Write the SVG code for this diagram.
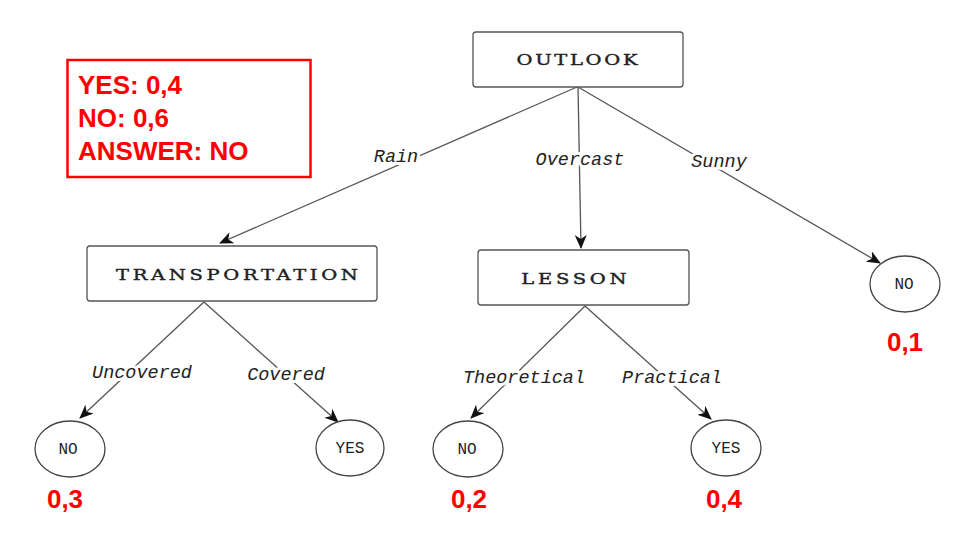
<svg xmlns="http://www.w3.org/2000/svg" width="960" height="540" viewBox="0 0 960 540">
<defs>
<marker id="arr" markerUnits="userSpaceOnUse" markerWidth="14" markerHeight="12" viewBox="0 0 14 12" refX="13" refY="6" orient="auto">
<path d="M0,0 L14,6 L0,12 L4,6 z" fill="#111"/>
</marker>
<style>
.box{fill:#fff;stroke:#555;stroke-width:1.3}
.ell{fill:#fff;stroke:#444;stroke-width:1.3}
.ntxt{font-family:"DejaVu Serif",serif;font-size:15px;fill:#222;stroke:#222;stroke-width:0.4;text-anchor:middle}
.ltxt{font-family:"Liberation Mono",monospace;font-size:16px;fill:#222;text-anchor:middle}
.edge{stroke:#555;stroke-width:1.3;fill:none;marker-end:url(#arr)}
.elab{font-family:"Liberation Mono",monospace;font-style:italic;font-size:18.5px;fill:#222;text-anchor:middle;stroke:#fff;stroke-width:6;paint-order:stroke;stroke-linejoin:round}
.red{font-family:"Liberation Sans",sans-serif;font-weight:bold;font-size:26px;fill:#f00}
</style>
</defs>
<rect width="960" height="540" fill="#fff"/>
<g id="connectors">
<line class="edge" x1="577" y1="87" x2="220" y2="243"/>
<line class="edge" x1="578" y1="87" x2="581" y2="248"/>
<line class="edge" x1="578" y1="87" x2="880" y2="263"/>
<line class="edge" x1="204" y1="302" x2="80" y2="418"/>
<line class="edge" x1="204" y1="302" x2="338" y2="422"/>
<line class="edge" x1="585" y1="306" x2="471" y2="418"/>
<line class="edge" x1="585" y1="306" x2="711" y2="419"/>
<text class="elab" x="396" y="162">Rain</text>
<text class="elab" x="580" y="165">Overcast</text>
<text class="elab" x="719" y="167">Sunny</text>
<text class="elab" x="142" y="378">Uncovered</text>
<text class="elab" x="286" y="380">Covered</text>
<text class="elab" x="524" y="383">Theoretical</text>
<text class="elab" x="672" y="383">Practical</text>
</g>
<g id="legend">
<rect x="67.5" y="60" width="243" height="117" fill="none" stroke="#f00" stroke-width="2.5"/>
<text class="red" x="78" y="94">YES: 0,4</text>
<text class="red" x="78" y="127">NO: 0,6</text>
<text class="red" x="78" y="160">ANSWER: NO</text>
</g>
<g id="outlook">
<rect class="box" x="473" y="32" width="210" height="55" rx="3"/>
<text class="ntxt" transform="translate(577,65) scale(1.3,1)" textLength="93" lengthAdjust="spacing">OUTLOOK</text>
</g>
<g id="transportation">
<rect class="box" x="87" y="246" width="290" height="55" rx="3"/>
<text class="ntxt" transform="translate(237,280) scale(1.3,1)" textLength="186" lengthAdjust="spacing">TRANSPORTATION</text>
</g>
<g id="lesson">
<rect class="box" x="478" y="250" width="211" height="55" rx="3"/>
<text class="ntxt" transform="translate(574,284) scale(1.3,1)" textLength="81" lengthAdjust="spacing">LESSON</text>
</g>
<g id="no-sunny">
<ellipse class="ell" cx="905" cy="284" rx="35" ry="28"/>
<text class="ltxt" x="904" y="289">NO</text>
<text class="red" x="905" y="351" text-anchor="middle">0,1</text>
</g>
<g id="no-uncovered">
<ellipse class="ell" cx="70" cy="449" rx="35" ry="28"/>
<text class="ltxt" x="68" y="454">NO</text>
<text class="red" x="65" y="508" text-anchor="middle">0,3</text>
</g>
<g id="yes-covered">
<ellipse class="ell" cx="350" cy="448" rx="34" ry="28"/>
<text class="ltxt" x="350" y="453">YES</text>
</g>
<g id="no-theoretical">
<ellipse class="ell" cx="468" cy="449" rx="35" ry="28"/>
<text class="ltxt" x="467" y="454">NO</text>
<text class="red" x="469" y="508" text-anchor="middle">0,2</text>
</g>
<g id="yes-practical">
<ellipse class="ell" cx="726" cy="448" rx="35" ry="28"/>
<text class="ltxt" x="726" y="453">YES</text>
<text class="red" x="724" y="508" text-anchor="middle">0,4</text>
</g>
</svg>
